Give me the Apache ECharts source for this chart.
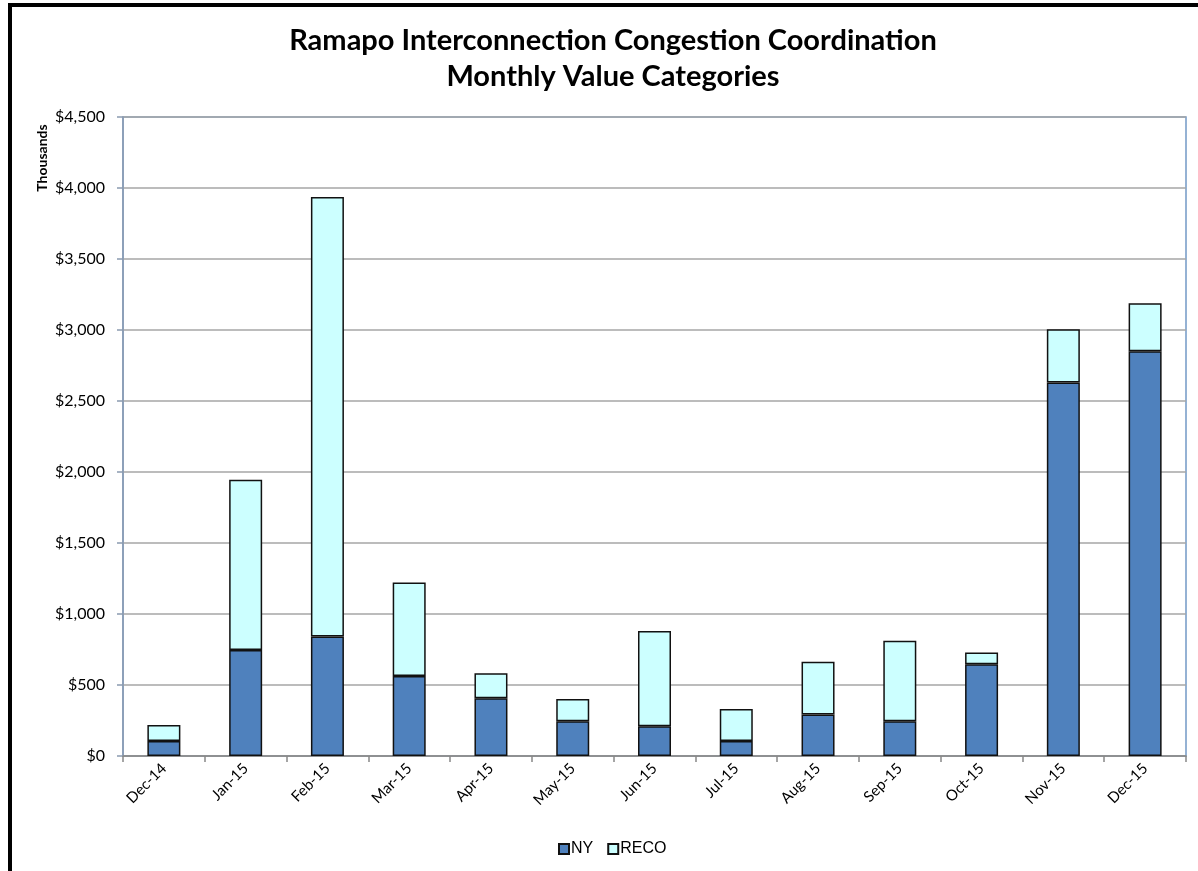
<!DOCTYPE html>
<html>
<head>
<meta charset="utf-8">
<script src="https://cdn.jsdelivr.net/npm/echarts@6/dist/echarts.min.js"></script>
<style>
html,body{margin:0;padding:0;background:#fff;}
#c{width:1198px;height:871px;}
</style>
</head>
<body>
<div id="c"></div>
<script>
var categories = ['Dec-14','Jan-15','Feb-15','Mar-15','Apr-15','May-15','Jun-15','Jul-15','Aug-15','Sep-15','Oct-15','Nov-15','Dec-15'];
var nyValues   = [106, 747, 841, 564, 406, 245, 209, 106, 292, 245, 646, 2631, 2851];
var recoValues = [113, 1199, 3096, 657, 177, 157, 671, 225, 372, 567, 82, 374, 338];
var titleLines = ['Ramapo Interconnection Congestion Coordination', 'Monthly Value Categories'];
var yAxisName = 'Thousands';

var chart = echarts.init(document.getElementById('c'), null, {renderer:'canvas'});
var option = {
  animation: false,
  backgroundColor: '#ffffff',
  title: {
    text: titleLines.join('\n'),
    left: 608, top: 18, textAlign: 'center',
    textStyle: {fontFamily: 'Lato', fontWeight: 'bold', fontSize: 29, lineHeight: 36, color: '#000'}
  },
  graphic: [
    {type: 'rect', shape: {x: 10, y: 5, width: 1220, height: 900}, style: {fill: 'none', stroke: '#000', lineWidth: 4}, z: 100},
    {type: 'text', x: 42, y: 158, rotation: Math.PI / 2,
     style: {text: yAxisName, textAlign: 'center', textVerticalAlign: 'middle', font: 'bold 14px Lato', fill: '#000'}}
  ],
  legend: {
    data: ['NY', 'RECO'],
    bottom: 9, left: 553,
    itemWidth: 10, itemHeight: 10, itemGap: 14,
    icon: 'rect',
    textStyle: {fontFamily: 'Liberation Sans', fontSize: 16, color: '#000', padding: [0,0,0,-3]}
  },
  grid: {left: 123, right: 12, top: 117, bottom: 115, show: true, borderColor: '#7399c6', borderWidth: 1.5, containLabel: false},
  xAxis: {
    type: 'category', data: categories,
    axisLine: {lineStyle: {color: '#888888', width: 1.5}},
    axisTick: {show: true, length: 6, lineStyle: {color: '#888888', width: 1.5}},
    axisLabel: {rotate: 45, fontFamily: 'Lato', fontSize: 15, color: '#000', margin: 10, interval: 0}
  },
  yAxis: {
    type: 'value', min: 0, max: 4500, interval: 500,
    axisLine: {show: true, lineStyle: {color: '#8b9ab0', width: 1.5}},
    axisTick: {show: true, length: 6, lineStyle: {color: '#8b9ab0', width: 1.5}},
    splitLine: {lineStyle: {color: '#a6a6a6', width: 1.5}},
    axisLabel: {fontFamily: 'Lato', fontSize: 16, color: '#000', margin: 18,
      formatter: function (v) { return '$' + v.toLocaleString('en-US'); }}
  },
  series: [
    {name: 'NY', type: 'bar', stack: 'total', data: nyValues, barWidth: 33,
     itemStyle: {color: '#4f81bd', borderColor: '#111', borderWidth: 1.5}},
    {name: 'RECO', type: 'bar', stack: 'total', data: recoValues, barWidth: 33,
     itemStyle: {color: '#ccffff', borderColor: '#111', borderWidth: 1.5}}
  ]
};
chart.setOption(option);
</script>
</body>
</html>
